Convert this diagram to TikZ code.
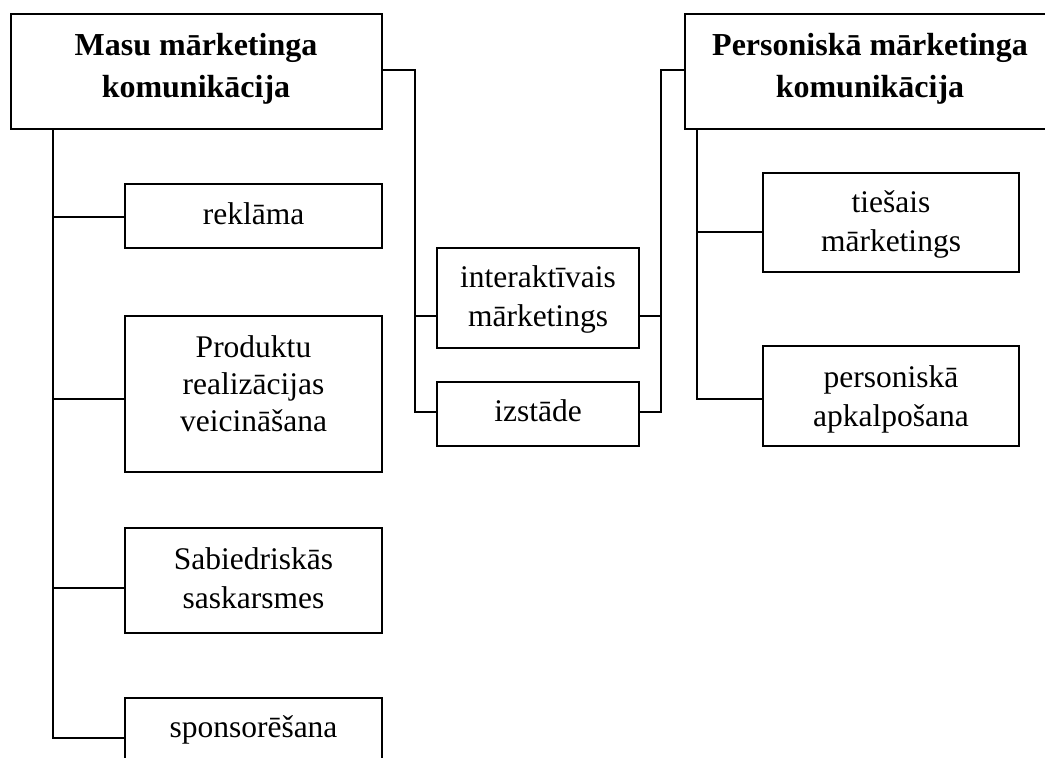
\documentclass[tikz,border=0pt]{standalone}
\usepackage{fontspec}
\setmainfont{Liberation Serif}

% multi-line cell whose baseline is the baseline of its first line
\newcommand\cellbox[1]{\begin{tabular}[t]{@{}c@{}}#1\end{tabular}}

\begin{document}
\begin{tikzpicture}[x=1pt, y=-1pt,
  box/.style={draw, line width=1.6pt, rectangle, inner sep=0pt},
  body/.style={anchor=base, inner sep=0pt, font=\fontsize{31.5}{39}\selectfont},
  head/.style={anchor=base, inner sep=0pt, font=\fontsize{32}{42}\selectfont\bfseries},
  link/.style={line width=1.6pt}]

\clip (0,0) rectangle (1045,758);

% boxes
\node[box, minimum width=371pt, minimum height=115pt] (masu) at (196.5,71.5) {};
\node[box, minimum width=370pt, minimum height=115pt] (pers) at (870,71.5) {};
\node[box, minimum width=257pt, minimum height=64pt]  (rek)  at (253.5,216) {};
\node[box, minimum width=257pt, minimum height=156pt] (prod) at (253.5,394) {};
\node[box, minimum width=257pt, minimum height=105pt] (sab)  at (253.5,580.5) {};
\node[box, minimum width=257pt, minimum height=66pt]  (spon) at (253.5,731) {};
\node[box, minimum width=202pt, minimum height=100pt] (inter) at (538,298) {};
\node[box, minimum width=202pt, minimum height=64pt]  (izst) at (538,414) {};
\node[box, minimum width=256pt, minimum height=99pt]  (ties) at (891,222.5) {};
\node[box, minimum width=256pt, minimum height=100pt] (pkal) at (891,396) {};

% texts
\node[head] (masut) at (196,55) {\cellbox{Masu mārketinga\\komunikācija}};
\node[head] (perst) at (870,55) {\cellbox{Personiskā mārketinga\\komunikācija}};
\node[body] (rekt) at (253.5,224) {reklāma};
\node[body, font=\fontsize{31.5}{37}\selectfont] (prodt) at (253.5,357) {\cellbox{Produktu\\realizācijas\\veicināšana}};
\node[body] (sabt) at (253.5,569) {\cellbox{Sabiedriskās\\saskarsmes}};
\node[body] (spont) at (253.5,737) {sponsorēšana};
\node[body] (intert) at (538,287) {\cellbox{interaktīvais\\mārketings}};
\node[body] (izstt) at (538,421) {izstāde};
\node[body] (tiest) at (891,212) {\cellbox{tiešais\\mārketings}};
\node[body] (pkalt) at (891,387) {\cellbox{personiskā\\apkalpošana}};

% mass communication trunk and branches
\coordinate (mt1) at (53,217);
\coordinate (mt2) at (53,399);
\coordinate (mt3) at (53,588);
\coordinate (mt4) at (53,738);
\draw[link] (masu.south -| mt4) -- (mt4) -- (mt4 -| spon.west);
\draw[link] (mt1) -- (mt1 -| rek.west);
\draw[link] (mt2) -- (mt2 -| prod.west);
\draw[link] (mt3) -- (mt3 -| sab.west);

% shared tools, left bracket
\coordinate (ml) at (415,70);
\coordinate (mli) at (415,316);
\coordinate (mlb) at (415,412);
\draw[link] (masu.east |- ml) -- (ml) -- (mlb) -- (mlb -| izst.west);
\draw[link] (mli) -- (mli -| inter.west);

% shared tools, right bracket
\coordinate (mr) at (661,70);
\coordinate (mri) at (661,316);
\coordinate (mrb) at (661,412);
\draw[link] (pers.west |- mr) -- (mr) -- (mrb) -- (mrb -| izst.east);
\draw[link] (mri) -- (mri -| inter.east);

% personal communication trunk and branches
\coordinate (pt1) at (697,232);
\coordinate (pt2) at (697,399);
\draw[link] (pers.south -| pt2) -- (pt2) -- (pt2 -| pkal.west);
\draw[link] (pt1) -- (pt1 -| ties.west);

\end{tikzpicture}
\end{document}
